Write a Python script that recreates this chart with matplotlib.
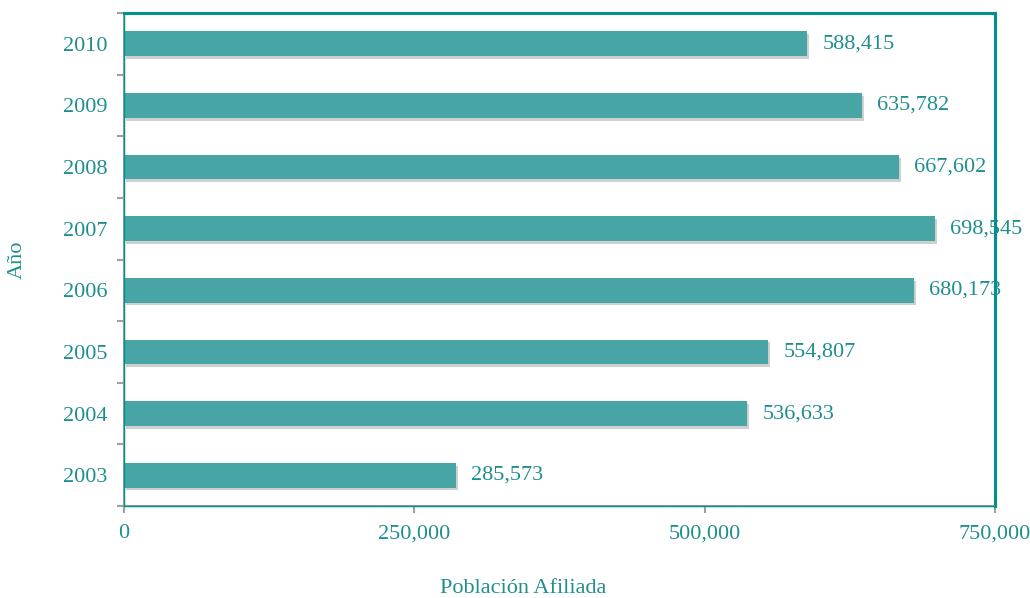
import matplotlib
matplotlib.use("Agg")
import matplotlib.pyplot as plt
import matplotlib.patheffects as pe
from matplotlib.patches import Rectangle
import numpy as np

years = ["2003", "2004", "2005", "2006", "2007", "2008", "2009", "2010"]
afiliados = [285573, 536633, 554807, 680173, 698545, 667602, 635782, 588415]
xticks = [0, 250000, 500000, 750000]

teal = "#1f8e8e"
bar_col = "#48a5a5"
frame = "#00918f"
grey = "#a0a0a0"

plt.rcParams['font.family'] = ['Liberation Serif', 'DejaVu Serif']

fig = plt.figure(figsize=(10.3, 5.98), dpi=100)
ax = fig.add_axes([124 / 1030, 1 - 506 / 598, 871 / 1030, 493 / 598])

y = np.arange(len(years))
bars = ax.barh(y, afiliados, height=0.4, color=bar_col, zorder=3)
for b in bars:
    b.set_path_effects([pe.SimplePatchShadow(offset=(1.5, -2), shadow_rgbFace="#b0b0b0", alpha=0.6), pe.Normal()])

for yi, v in zip(y, afiliados):
    ax.text(v + 13000, yi, f"{v:,}", va="center", ha="left", fontsize=16, color=teal, zorder=4)

ax.set_xlim(0, 750000)
ax.set_ylim(-0.5, len(years) - 0.5)
ax.set_yticks(y)
ax.set_yticklabels(years)
ax.set_yticks(np.arange(-0.5, len(years), 1), minor=True)
ax.tick_params(axis="y", which="major", length=0, pad=12, labelsize=16, labelcolor=teal)
ax.tick_params(axis="y", which="minor", length=5, width=1.5, color=grey, direction="out")
ax.set_xticks(xticks)
ax.set_xticklabels([f"{t:,}" for t in xticks])
ax.tick_params(axis="x", length=5, width=1.5, color=grey, pad=8, labelsize=16, labelcolor=teal)

for s in ["top", "right"]:
    ax.spines[s].set_color(frame)
    ax.spines[s].set_linewidth(2.2)
for s in ["left", "bottom"]:
    ax.spines[s].set_color(grey)
    ax.spines[s].set_linewidth(1.5)
ax.add_patch(Rectangle((0, 0), 1, 1, transform=ax.transAxes, fill=False,
                       edgecolor=frame, lw=1.0, zorder=5, clip_on=False))

ax.set_ylabel("Año", fontsize=16, color=teal)
ax.yaxis.set_label_coords(-0.112, 0.5)
ax.set_xlabel("Población Afiliada", fontsize=16, color=teal)
ax.xaxis.set_label_coords(0.458, -0.148)

fig.savefig("out.png", dpi=100)
